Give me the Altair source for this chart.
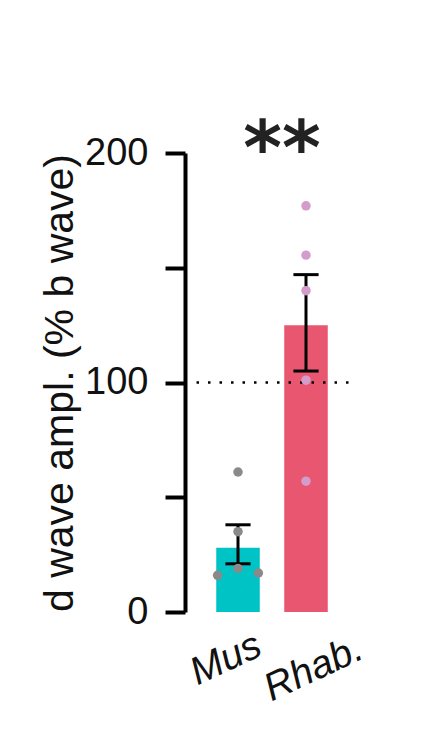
import json
import altair as alt
import pandas as pd

groups = ["Mus", "Rhab."]
group_pos = [0, 1]
means = [28, 125]
err_low = [21, 105]
err_high = [38, 147]
bar_colors = ["#00C3C6", "#E8566F"]
point_colors = ["#8A8A8A", "#D49CCC"]

mus_points = [61, 35, 19, 16, 17]
mus_jitter = [0, 0, 0, -0.3, 0.3]
rhab_points = [177, 155.5, 140, 101, 57]
rhab_jitter = [0, 0, 0, 0, 0]
reference_level = [100]
reference_span = [-0.61, 1.65]
y_ticks = [0, 50, 100, 150, 200]
signif = ["**"]
signif_pos = [1]
signif_level = [200]

BAR_HALF = 0.32
CAP_HALF = 0.185

summary = pd.DataFrame({"group": groups, "pos": group_pos, "mean": means,
                        "lo": err_low, "hi": err_high})
points = pd.DataFrame({
    "group": ["Mus"] * len(mus_points) + ["Rhab."] * len(rhab_points),
    "pos": [group_pos[0]] * len(mus_points) + [group_pos[1]] * len(rhab_points),
    "value": mus_points + rhab_points,
    "jit": mus_jitter + rhab_jitter,
})
ref = pd.DataFrame({"level": reference_level, "x0": [reference_span[0]], "x1": [reference_span[1]]})
stars = pd.DataFrame({"label": signif, "pos": signif_pos, "level": signif_level})

x_scale = alt.Scale(domain=[-0.7794, 1.7794], nice=False, zero=False, padding=0)
x_axis = alt.Axis(
    title=None, domain=False, ticks=False, grid=False, values=group_pos,
    labelExpr=f"{json.dumps(groups)}[datum.value]",
    labelAngle=335, labelAlign="left", labelBaseline="alphabetic",
    labelFont="Liberation Sans", labelFontStyle="italic",
    labelFontSize=39, labelColor="#111",
    labelPadding={"condition": {"test": "datum.value == 1", "value": 89}, "value": 73},
    labelOffset={"condition": {"test": "datum.value == 1", "value": -35}, "value": -41},
    labelFlush=False, labelOverlap=False,
)
y_scale = alt.Scale(domain=[0, 200], nice=False, padding=0)
y_axis = alt.Axis(
    title="d wave ampl. (% b wave)", values=y_ticks,
    labelExpr="datum.value % 100 == 0 ? datum.label : ''",
    labelFont="Liberation Sans", labelFontSize=38, labelColor="#111", labelPadding=17,
    titleFont="Liberation Sans", titleFontSize=41, titleFontWeight="normal", titleColor="#111",
    titlePadding=3, domainColor="black", domainWidth=4, tickColor="black",
    tickWidth=4, tickSize=20, grid=False,
)

base_sum = alt.Chart(summary).transform_calculate(
    bx0=f"datum.pos - {BAR_HALF}", bx1=f"datum.pos + {BAR_HALF}",
    cx0=f"datum.pos - {CAP_HALF}", cx1=f"datum.pos + {CAP_HALF}",
)

bars = base_sum.mark_rect().encode(
    x=alt.X("bx0:Q", scale=x_scale, axis=x_axis),
    x2="bx1:Q",
    y=alt.Y("mean:Q", scale=y_scale, axis=y_axis),
    y2=alt.datum(0),
    color=alt.Color("group:N", scale=alt.Scale(domain=groups, range=bar_colors), legend=None),
)

refline = alt.Chart(ref).mark_rule(color="black", strokeWidth=2.5, strokeDash=[2.5, 9]).encode(
    x=alt.X("x0:Q", scale=x_scale, axis=x_axis), x2="x1:Q",
    y=alt.Y("level:Q", scale=y_scale, axis=y_axis),
)

err_rule = base_sum.mark_rule(color="black", strokeWidth=3).encode(
    x=alt.X("pos:Q", scale=x_scale, axis=x_axis),
    y=alt.Y("lo:Q", scale=y_scale, axis=y_axis),
    y2="hi:Q",
)
cap_lo = base_sum.mark_rule(color="black", strokeWidth=3).encode(
    x=alt.X("cx0:Q", scale=x_scale, axis=x_axis), x2="cx1:Q",
    y=alt.Y("lo:Q", scale=y_scale, axis=y_axis),
)
cap_hi = base_sum.mark_rule(color="black", strokeWidth=3).encode(
    x=alt.X("cx0:Q", scale=x_scale, axis=x_axis), x2="cx1:Q",
    y=alt.Y("hi:Q", scale=y_scale, axis=y_axis),
)

dots = alt.Chart(points).transform_calculate(px="datum.pos + datum.jit").mark_circle(
    size=90, opacity=1
).encode(
    x=alt.X("px:Q", scale=x_scale, axis=x_axis),
    y=alt.Y("value:Q", scale=y_scale, axis=y_axis),
    color=alt.Color("group:N", scale=alt.Scale(domain=groups, range=point_colors), legend=None),
)

star_text = alt.Chart(stars).mark_text(
    font="DejaVu Sans", fontWeight="bold", fontSize=74, color="#222",
    align="center", baseline="alphabetic", dx=-24, dy=21,
).encode(
    x=alt.X("pos:Q", scale=x_scale, axis=x_axis),
    y=alt.Y("level:Q", scale=y_scale, axis=y_axis),
    text="label:N",
)

chart = alt.layer(bars, refline, err_rule, cap_lo, cap_hi, dots, star_text).resolve_scale(
    color="independent"
).properties(
    width=174, height=459, background="white",
    padding={"left": 177, "top": 145, "right": 60, "bottom": 130},
    autosize=alt.AutoSizeParams(type="none"),
).configure_view(strokeWidth=0)

chart.save("out.html", embed_options={"renderer": "svg", "actions": False})
